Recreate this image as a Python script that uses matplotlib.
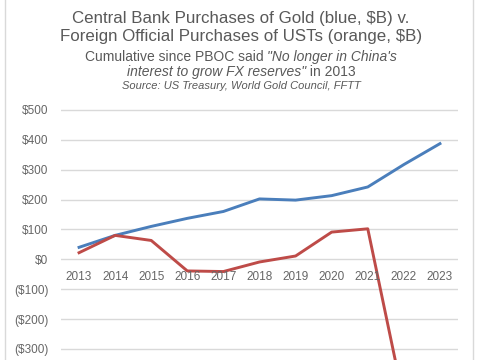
import matplotlib
matplotlib.use('Agg')
import matplotlib.pyplot as plt
from matplotlib.lines import Line2D

years = [2013, 2014, 2015, 2016, 2017, 2018, 2019, 2020, 2021, 2022, 2023]
gold = [40, 80, 110, 137, 160, 202, 198, 213, 242, 317, 387]
usts = [22, 80, 63, -39, -41, -9, 11, 91, 102, -475, -450]
y_ticks = [-300, -200, -100, 0, 100, 200, 300, 400, 500]
y_labels = ['($300)', '($200)', '($100)', '$0', '$100', '$200', '$300', '$400', '$500']

GRAY = '#595959'
plt.rcParams['font.family'] = ['Liberation Sans', 'DejaVu Sans']

W, H = 485, 360
fig = plt.figure(figsize=(W / 100, H / 100), dpi=100)

# axes placed in pixel terms: x 61..458, y 100..360 (top..bottom)
ax = fig.add_axes([61 / W, 0, (458 - 61) / W, (360 - 100) / H])
ax.plot(years, gold, color='#4a7ebb', lw=2.1, solid_joinstyle='round', zorder=3)
ax.plot(years, usts, color='#be4b48', lw=2.1, solid_joinstyle='round', zorder=3)

ax.set_xlim(2012.5, 2023.5)
ax.set_ylim(-337, 533)
ax.set_yticks(y_ticks)
ax.set_yticklabels(y_labels)
ax.yaxis.grid(True, color='#d9d9d9', lw=1.0)
ax.set_axisbelow(True)
ax.tick_params(axis='y', length=0, pad=9, labelsize=8.5, labelcolor='#666666')
ax.set_xticks([])
for s in ax.spines.values():
    s.set_visible(False)

# category labels sit just under the zero line
for yr in years:
    ax.annotate(str(yr), (yr, 0), xytext=(0, -12.5), textcoords='offset points',
                ha='center', va='center', fontsize=8.5, color='#666666')

# chart frame
fig.add_artist(Line2D([5 / W, 5 / W], [0, 1], color='#d9d9d9', lw=1))
fig.add_artist(Line2D([473 / W, 473 / W], [0, 1], color='#d9d9d9', lw=1))

fig.text(241 / W, 1 - 18 / H, 'Central Bank Purchases of Gold (blue, $B) v.',
         ha='center', va='center', fontsize=12.2, color=GRAY)
fig.text(241 / W, 1 - 36 / H, 'Foreign Official Purchases of USTs (orange, $B)',
         ha='center', va='center', fontsize=12.2, color=GRAY)

renderer = fig.canvas.get_renderer()


def mixed_line(parts, y, size):
    texts = []
    for s, style in parts:
        texts.append(fig.text(0, y, s, ha='left', va='center', fontsize=size,
                              style=style, color=GRAY))
    widths = [t.get_window_extent(renderer).width for t in texts]
    x = 241 - sum(widths) / 2
    for t, w in zip(texts, widths):
        t.set_x(x / W)
        x += w


mixed_line([('Cumulative since PBOC said ', 'normal'),
            ('"No longer in China\'s', 'italic')], 1 - 57 / H, 10.0)
mixed_line([('interest to grow FX reserves"', 'italic'),
            (' in 2013', 'normal')], 1 - 72 / H, 10.0)
fig.text(241 / W, 1 - 86 / H, 'Source: US Treasury, World Gold Council, FFTT',
         ha='center', va='center', fontsize=8.0, style='italic', color=GRAY)

fig.savefig('out.png', dpi=100, facecolor='white')
